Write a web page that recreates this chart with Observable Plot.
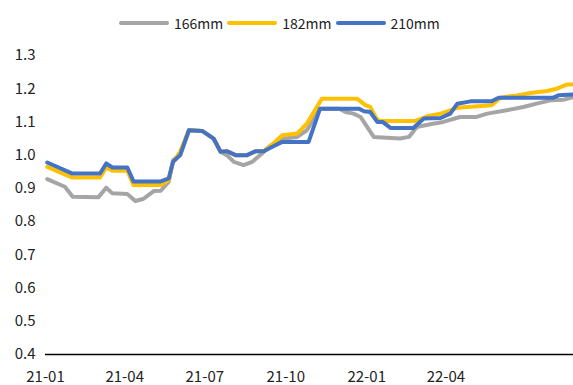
<!DOCTYPE html>
<html>
<head>
<meta charset="utf-8">
<script src="https://cdn.jsdelivr.net/npm/d3@7"></script>
<script src="https://cdn.jsdelivr.net/npm/@observablehq/plot@0.6"></script>
<style>
  body { margin: 0; background: #fff; font-family: "Noto Sans CJK SC", "Noto Sans", sans-serif; }
  #legend { height: 40px; display: flex; align-items: center; padding-left: 119px; box-sizing: border-box; font-size: 14px; color: #222; padding-top: 6px; }
  .sw { width: 50px; height: 4px; border-radius: 2px; margin-right: 5px; }
  .lab { margin-right: 4px; }
  svg { display: block; }
</style>
</head>
<body>
<div id="legend"></div>
<div id="chart"></div>
<script>
const seriesNames = ["166mm", "182mm", "210mm"];
const seriesColors = ["#A5A5A5", "#FFC000", "#4472C4"];

const dates166 = ["2021-01-03","2021-01-23","2021-02-01","2021-03-02","2021-03-11","2021-03-18","2021-04-04","2021-04-13","2021-04-22","2021-05-04","2021-05-12","2021-05-21","2021-05-26","2021-06-03","2021-06-13","2021-06-28","2021-07-11","2021-07-19","2021-07-26","2021-08-03","2021-08-14","2021-08-24","2021-09-04","2021-09-14","2021-09-29","2021-10-14","2021-10-25","2021-11-09","2021-12-01","2021-12-08","2021-12-17","2021-12-25","2022-01-09","2022-02-08","2022-02-18","2022-02-27","2022-03-14","2022-03-29","2022-04-17","2022-05-06","2022-05-18","2022-06-09","2022-06-28","2022-07-13","2022-07-29","2022-08-13","2022-08-24"];
const vals166 = [0.928,0.905,0.875,0.873,0.902,0.885,0.883,0.862,0.868,0.892,0.893,0.92,0.985,1.0,1.075,1.073,1.05,1.01,1.0,0.98,0.97,0.98,1.005,1.03,1.05,1.055,1.075,1.14,1.14,1.13,1.125,1.115,1.055,1.05,1.055,1.085,1.093,1.10,1.115,1.115,1.125,1.135,1.145,1.155,1.165,1.167,1.175];

const dates182 = ["2021-01-03","2021-01-31","2021-03-04","2021-03-11","2021-03-18","2021-04-04","2021-04-11","2021-05-12","2021-05-21","2021-05-26","2021-06-03","2021-06-13","2021-06-28","2021-07-11","2021-07-19","2021-07-26","2021-08-05","2021-08-18","2021-08-28","2021-09-06","2021-09-17","2021-09-27","2021-10-14","2021-10-25","2021-11-11","2021-12-21","2021-12-31","2022-01-05","2022-01-11","2022-01-15","2022-02-25","2022-03-11","2022-03-26","2022-04-06","2022-04-14","2022-05-23","2022-06-02","2022-06-21","2022-07-06","2022-07-25","2022-08-05","2022-08-17","2022-08-24"];
const vals182 = [0.965,0.933,0.933,0.963,0.953,0.953,0.91,0.91,0.925,0.98,1.01,1.075,1.073,1.05,1.01,1.012,1.0,1.0,1.012,1.012,1.035,1.06,1.065,1.095,1.17,1.17,1.15,1.145,1.115,1.103,1.103,1.117,1.125,1.135,1.143,1.15,1.173,1.18,1.187,1.193,1.2,1.213,1.213];

const dates210 = ["2021-01-03","2021-01-31","2021-03-04","2021-03-11","2021-03-18","2021-04-04","2021-04-11","2021-05-12","2021-05-21","2021-05-26","2021-06-03","2021-06-13","2021-06-28","2021-07-11","2021-07-19","2021-07-26","2021-08-05","2021-08-18","2021-08-28","2021-09-06","2021-09-17","2021-09-27","2021-10-27","2021-11-09","2021-12-23","2021-12-29","2022-01-05","2022-01-13","2022-01-19","2022-01-28","2022-02-23","2022-03-07","2022-03-26","2022-04-06","2022-04-14","2022-04-29","2022-05-23","2022-05-31","2022-08-01","2022-08-07","2022-08-24"];
const vals210 = [0.978,0.945,0.945,0.975,0.963,0.963,0.921,0.921,0.93,0.98,1.0,1.075,1.073,1.05,1.01,1.012,1.0,1.0,1.012,1.012,1.027,1.04,1.04,1.14,1.14,1.132,1.13,1.10,1.10,1.082,1.082,1.11,1.112,1.125,1.155,1.162,1.162,1.173,1.173,1.18,1.183];

const yTicks = [0.4,0.5,0.6,0.7,0.8,0.9,1.0,1.1,1.2,1.3];
const xTicks = ["2021-01-01","2021-04-01","2021-07-01","2021-10-01","2022-01-01","2022-04-01"];
const xDomain = ["2021-01-01","2022-08-24"];

const allDates = [dates166, dates182, dates210];
const allVals = [vals166, vals182, vals210];
const data = [];
seriesNames.forEach((s, i) => {
  allDates[i].forEach((d, j) => data.push({series: s, date: new Date(d), value: allVals[i][j]}));
});

// legend
const leg = document.getElementById("legend");
seriesNames.forEach((s, i) => {
  const sw = document.createElement("div"); sw.className = "sw"; sw.style.background = seriesColors[i];
  const lb = document.createElement("span"); lb.className = "lab"; lb.textContent = s;
  leg.appendChild(sw); leg.appendChild(lb);
});

const chart = Plot.plot({
  width: 573,
  height: 345,
  marginTop: 15,
  marginBottom: 31,
  marginLeft: 45,
  marginRight: 0,
  style: {fontFamily: '"Noto Sans CJK SC", "Noto Sans", sans-serif', fontSize: "15px", color: "#222", overflow: "visible"},
  x: {type: "utc", domain: xDomain.map(d => new Date(d)), ticks: xTicks.map(d => new Date(d)), tickFormat: d3.utcFormat("%y-%m"), tickSize: 0, tickPadding: 17, label: null},
  y: {domain: [0.4, 1.3], ticks: yTicks, tickFormat: d3.format(".1f"), tickSize: 0, tickPadding: 10, label: null},
  color: {domain: seriesNames, range: seriesColors},
  marks: [
    Plot.ruleY([0.4], {stroke: "#000", strokeWidth: 1.5}),
    Plot.line(data, {x: "date", y: "value", z: "series", stroke: "series", strokeWidth: 4, curve: "linear", strokeLinejoin: "round"})
  ]
});
document.getElementById("chart").appendChild(chart);
</script>
</body>
</html>
